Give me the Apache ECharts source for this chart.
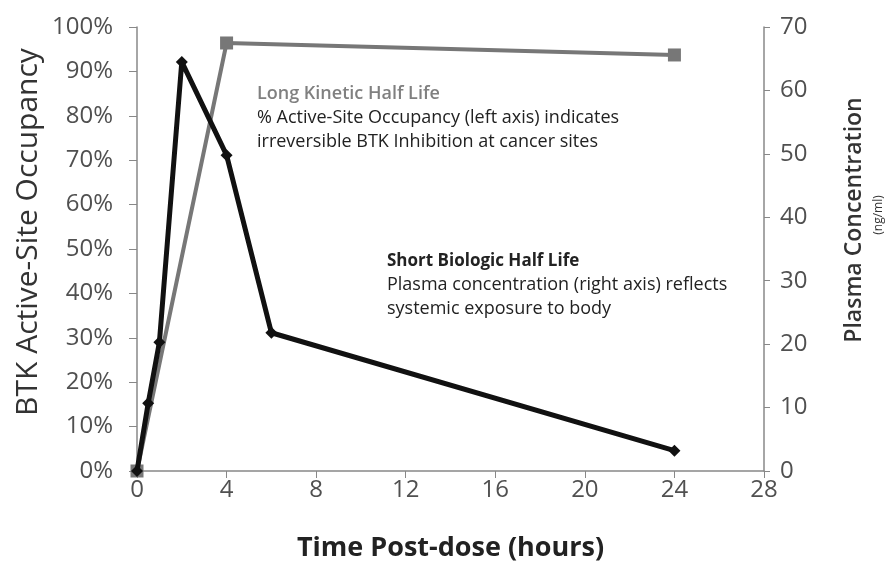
<!DOCTYPE html>
<html>
<head>
<meta charset="utf-8">
<script src="https://cdn.jsdelivr.net/npm/echarts@6/dist/echarts.min.js"></script>
<style>
  html, body { margin: 0; padding: 0; background: #fff; }
  #main { width: 892px; height: 567px; }
</style>
</head>
<body>
<div id="main"></div>
<script>
// occupancy (left axis, %)
var occHours = [0, 4, 24];
var occValues = [0, 96.4, 93.7];
// plasma concentration (right axis, ng/ml)
var plasmaHours = [0, 0.5, 1, 2, 4, 6, 24];
var plasmaValues = [0, 10.7, 20.3, 64.5, 49.8, 21.8, 3.2];

var font = '"Open Sans", "Noto Sans", sans-serif';

function pairs(xs, ys) {
  return xs.map(function (x, i) { return [x, ys[i]]; });
}

var chart = echarts.init(document.getElementById('main'));
var option = {
  backgroundColor: '#fff',
  animation: false,
  grid: { left: 137, right: 128, top: 27, bottom: 96 },
  xAxis: {
    type: 'value', min: 0, max: 28, interval: 4,
    name: 'Time Post-dose (hours)', nameLocation: 'middle', nameGap: 64,
    nameTextStyle: { fontFamily: font, fontSize: 27, fontWeight: 'bold', color: '#222' },
    axisLine: { lineStyle: { color: '#888', width: 1.5 } },
    axisTick: { show: true, length: 7, lineStyle: { color: '#888' } },
    axisLabel: { fontFamily: font, fontSize: 24, color: '#505050', margin: 7 },
    splitLine: { show: false }
  },
  yAxis: [
    {
      type: 'value', min: 0, max: 100, interval: 10, position: 'left',
      axisLine: { show: true, lineStyle: { color: '#888', width: 1.5 } },
      axisTick: { show: true, length: 8, lineStyle: { color: '#888' } },
      axisLabel: { fontFamily: font, fontSize: 24, color: '#505050', margin: 24, formatter: '{value}%' },
      splitLine: { show: false }
    },
    {
      type: 'value', min: 0, max: 70, interval: 10, position: 'right',
      axisLine: { show: true, lineStyle: { color: '#888', width: 1.5 } },
      axisTick: { show: true, length: 6, lineStyle: { color: '#888' } },
      axisLabel: { fontFamily: font, fontSize: 24, color: '#505050', margin: 16 },
      splitLine: { show: false }
    }
  ],
  series: [
    {
      name: 'Occupancy', type: 'line', yAxisIndex: 0,
      data: pairs(occHours, occValues),
      symbol: 'rect', symbolSize: 13,
      lineStyle: { color: '#777', width: 4 },
      itemStyle: { color: '#777' },
      z: 2
    },
    {
      name: 'Plasma', type: 'line', yAxisIndex: 1,
      data: pairs(plasmaHours, plasmaValues),
      symbol: 'diamond', symbolSize: 12,
      lineStyle: { color: '#111', width: 5 },
      itemStyle: { color: '#111' },
      z: 3
    }
  ],
  graphic: [
    // axis titles
    { type: 'text', x: 28, y: 232, rotation: Math.PI / 2, style: { text: 'BTK Active-Site Occupancy', font: '30px ' + font, fill: '#333', align: 'center', verticalAlign: 'middle' } },
    { type: 'text', x: 854, y: 220, rotation: Math.PI / 2, style: { text: 'Plasma Concentration', font: '600 23px ' + font, fill: '#333', align: 'center', verticalAlign: 'middle' } },
    { type: 'text', x: 879, y: 215, rotation: Math.PI / 2, style: { text: '(ng/ml)', font: '12px ' + font, fill: '#333', align: 'center', verticalAlign: 'middle' } },
    // annotations
    { type: 'text', x: 257, y: 94, style: { text: 'Long Kinetic Half Life', font: '600 18px ' + font, fill: '#808080', verticalAlign: 'middle' } },
    { type: 'text', x: 257, y: 118, style: { text: '% Active-Site Occupancy (left axis) indicates', font: '18px ' + font, fill: '#222', verticalAlign: 'middle' } },
    { type: 'text', x: 257, y: 142, style: { text: 'irreversible BTK Inhibition at cancer sites', font: '18px ' + font, fill: '#222', verticalAlign: 'middle' } },
    { type: 'text', x: 387, y: 261, style: { text: 'Short Biologic Half Life', font: 'bold 17px ' + font, fill: '#222', verticalAlign: 'middle' } },
    { type: 'text', x: 387, y: 285, style: { text: 'Plasma concentration (right axis) reflects', font: '18px ' + font, fill: '#222', verticalAlign: 'middle' } },
    { type: 'text', x: 387, y: 309, style: { text: 'systemic exposure to body', font: '18px ' + font, fill: '#222', verticalAlign: 'middle' } }
  ]
};
chart.setOption(option);
</script>
</body>
</html>
